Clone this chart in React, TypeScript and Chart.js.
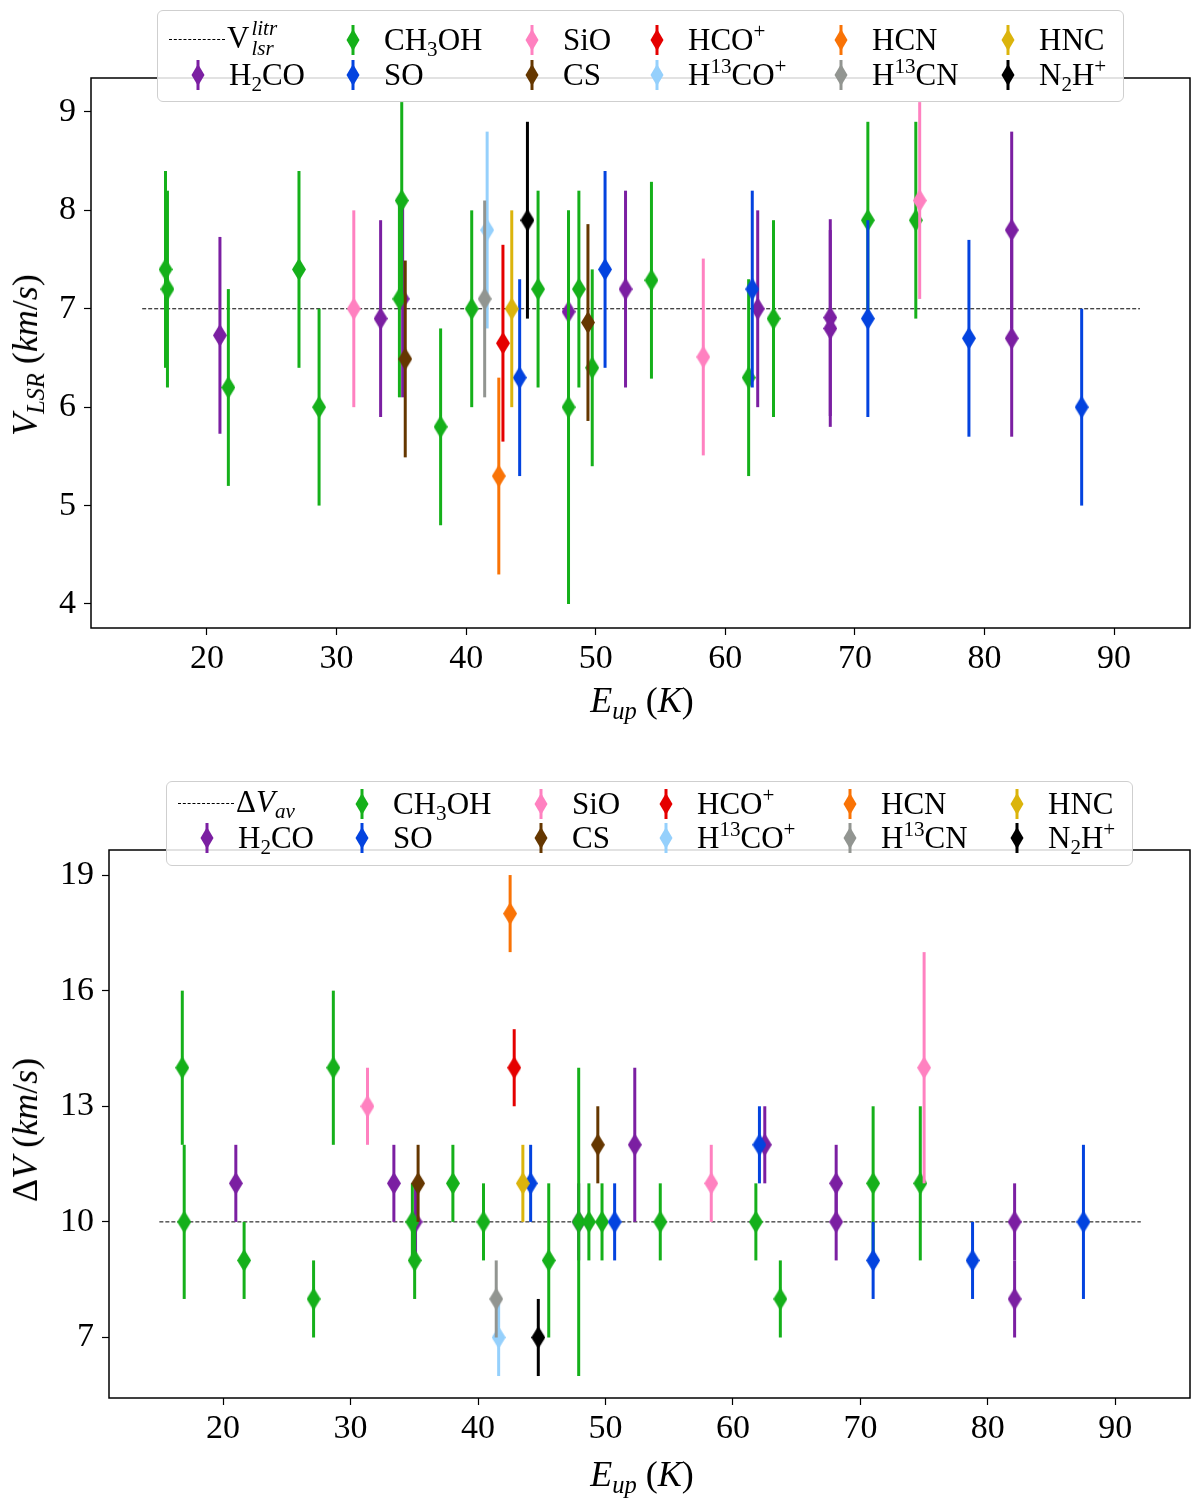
import React, { useEffect, useRef } from 'react';
import { Chart, registerables } from 'chart.js';

Chart.register(...registerables);

const FONT = "'Liberation Serif', 'DejaVu Serif', serif";

// x ticks and axis ranges
const X_TICKS = [20, 30, 40, 50, 60, 70, 80, 90];
const V_TICKS = [4, 5, 6, 7, 8, 9];
const DV_TICKS = [7, 10, 13, 16, 19];
const REF_X = [15, 92];
const V_LITR = 7;
const DV_AV = 10;

// species order: H2CO, CH3OH, SO, SiO, CS, HCO+, H13CO+, HCN, H13CN, HNC, N2H+
const COLORS = ['#7b1fa2', '#15b01a', '#0343df', '#ff81c0', '#653700', '#e50000', '#95d0fc', '#f97306', '#929591', '#dbb40c', '#000000'];

const E_UP = [
  [21.0, 33.4, 35.1, 47.9, 52.3, 62.5, 68.1, 68.1, 82.1, 82.1],
  [16.8, 16.95, 21.65, 27.1, 28.65, 34.85, 35.03, 38.03, 40.43, 45.55, 47.9, 48.7, 49.73, 54.3, 61.8, 63.72, 71.0, 74.7],
  [44.13, 50.72, 62.08, 71.0, 78.8, 87.5],
  [31.33, 58.3, 75.0],
  [35.3, 49.4],
  [42.84],
  [41.62],
  [42.52],
  [41.43],
  [43.52],
  [44.73],
];

const VLSR = [
  [6.73, 6.9, 7.1, 6.97, 7.2, 7.0, 6.91, 6.8, 7.8, 6.7],
  [7.4, 7.2, 6.2, 7.4, 6.0, 7.1, 8.1, 5.8, 7.0, 7.2, 6.0, 7.2, 6.4, 7.29, 6.3, 6.9, 7.9, 7.9],
  [6.3, 7.4, 7.2, 6.9, 6.7, 6.0],
  [7.0, 6.51, 8.1],
  [6.49, 6.86],
  [6.65],
  [7.8],
  [5.3],
  [7.1],
  [7.0],
  [7.9],
];

const VLSR_ERR = [
  [1, 1, 1, 1, 1, 1, 1, 1, 1, 1],
  [1, 1, 1, 1, 1, 1, 1, 1, 1, 1, 2, 1, 1, 1, 1, 1, 1, 1],
  [1, 1, 1, 1, 1, 1],
  [1, 1, 1],
  [1, 1],
  [1],
  [1],
  [1],
  [1],
  [1],
  [1],
];

const DV = [
  [11, 11, 10, 10, 12, 12, 11, 10, 10, 8],
  [14, 10, 9, 8, 14, 10, 9, 11, 10, 9, 10, 10, 10, 10, 10, 8, 11, 11],
  [11, 10, 12, 9, 9, 10],
  [13, 11, 14],
  [11, 12],
  [14],
  [7],
  [18],
  [8],
  [11],
  [7],
];

const DV_ERR = [
  [1, 1, 1, 1, 2, 1, 1, 1, 1, 1],
  [2, 2, 1, 1, 2, 1, 1, 1, 1, 2, 4, 1, 1, 1, 1, 1, 2, 2],
  [1, 1, 1, 1, 1, 2],
  [1, 1, 3],
  [1, 1],
  [1],
  [1],
  [1],
  [1],
  [1],
  [1],
];

const sub = (t: string, italic = false) => (
  <sub style={{ fontSize: '0.68em', lineHeight: 0, verticalAlign: '-0.3em', fontStyle: italic ? 'italic' : 'normal' }}>{t}</sub>
);
const sup = (t: string) => <sup style={{ fontSize: '0.68em', lineHeight: 0, verticalAlign: '0.55em' }}>{t}</sup>;

const LABELS = [
  <>H{sub('2')}CO</>,
  <>CH{sub('3')}OH</>,
  <>SO</>,
  <>SiO</>,
  <>CS</>,
  <>HCO{sup('+')}</>,
  <>H{sup('13')}CO{sup('+')}</>,
  <>HCN</>,
  <>H{sup('13')}CN</>,
  <>HNC</>,
  <>N{sub('2')}H{sup('+')}</>,
];

const LEGEND_COLS = [40, 195, 374, 499, 683, 850];

function diamond(color: string) {
  const c = document.createElement('canvas');
  c.width = 14;
  c.height = 23;
  const g = c.getContext('2d')!;
  g.fillStyle = color;
  g.beginPath();
  g.moveTo(7, 0);
  g.lineTo(14, 11.5);
  g.lineTo(7, 23);
  g.lineTo(0, 11.5);
  g.closePath();
  g.fill();
  return c;
}

const errorBars = {
  id: 'errorBars',
  beforeDatasetDraw(chart: any, args: any) {
    const ds = chart.data.datasets[args.index];
    if (!ds.errs) return;
    const { ctx, chartArea: a } = chart;
    const x = chart.scales.x;
    const y = chart.scales.y;
    ctx.save();
    ctx.beginPath();
    ctx.rect(a.left, a.top, a.right - a.left, a.bottom - a.top);
    ctx.clip();
    ctx.strokeStyle = ds.borderColor;
    ctx.lineWidth = 3;
    ds.data.forEach((p: any, j: number) => {
      const px = x.getPixelForValue(p.x);
      ctx.beginPath();
      ctx.moveTo(px, y.getPixelForValue(p.y - ds.errs[j]));
      ctx.lineTo(px, y.getPixelForValue(p.y + ds.errs[j]));
      ctx.stroke();
    });
    ctx.restore();
  },
};

const frame = {
  id: 'frame',
  afterDatasetsDraw(chart: any) {
    const { ctx, chartArea: a } = chart;
    ctx.save();
    ctx.strokeStyle = '#000';
    ctx.lineWidth = 1.5;
    ctx.strokeRect(a.left, a.top, a.right - a.left, a.bottom - a.top);
    ctx.restore();
  },
};

type PanelProps = {
  vals: number[][];
  errs: number[][];
  level: number;
  yMin: number;
  yMax: number;
  yTicks: number[];
  yWidth: number;
  xHeight: number;
  padTop: number;
  refLabel: React.ReactNode;
  yTitle: React.ReactNode;
  xTitleY: number;
  yTitleY: number;
  legendTop: number;
  legendLeft: number;
  legendH: number;
  rows: number[];
};

const Panel: React.FC<PanelProps> = (p) => {
  const chartRef = useRef<HTMLCanvasElement | null>(null);

  useEffect(() => {
    if (!chartRef.current) return;
    const ctx = chartRef.current.getContext('2d')!;
    const tickFont = { family: FONT, size: 34 };
    const chart = new Chart(ctx, {
      type: 'scatter',
      data: {
        datasets: [
          {
            type: 'line',
            data: [
              { x: REF_X[0], y: p.level },
              { x: REF_X[1], y: p.level },
            ],
            showLine: true,
            borderColor: '#000',
            borderWidth: 1,
            borderDash: [4, 2],
            pointRadius: 0,
            order: 100,
          },
          ...COLORS.map((c, i) => ({
            data: E_UP[i].map((x, j) => ({ x, y: p.vals[i][j] })),
            errs: p.errs[i],
            backgroundColor: c,
            borderColor: c,
            pointStyle: diamond(c),
            pointRadius: 8,
            order: 50 - i,
          })),
        ] as any,
      },
      options: {
        animation: false,
        responsive: false,
        devicePixelRatio: 1,
        layout: { padding: { top: p.padTop, right: 10, left: 0, bottom: 0 } },
        plugins: { legend: { display: false }, tooltip: { enabled: false } },
        scales: {
          x: {
            type: 'linear',
            min: 11.05,
            max: 95.86,
            afterBuildTicks: (s: any) => {
              s.ticks = X_TICKS.map((v) => ({ value: v }));
            },
            afterFit: (s: any) => {
              s.height = p.xHeight;
            },
            grid: { drawOnChartArea: false, drawTicks: true, tickLength: 7, tickColor: '#000', tickWidth: 1.2 },
            border: { display: false },
            ticks: { font: tickFont, color: '#000', padding: 4, maxRotation: 0, autoSkip: false },
          },
          y: {
            type: 'linear',
            min: p.yMin,
            max: p.yMax,
            afterBuildTicks: (s: any) => {
              s.ticks = p.yTicks.map((v) => ({ value: v }));
            },
            afterFit: (s: any) => {
              s.width = p.yWidth;
            },
            grid: { drawOnChartArea: false, drawTicks: true, tickLength: 7, tickColor: '#000', tickWidth: 1.2 },
            border: { display: false },
            ticks: { font: tickFont, color: '#000', padding: 8, autoSkip: false },
          },
        },
      } as any,
      plugins: [errorBars, frame],
    });
    return () => chart.destroy();
  }, []);

  const text = { position: 'absolute' as const, whiteSpace: 'nowrap' as const, fontFamily: FONT, color: '#000' };

  return (
    <div style={{ position: 'relative', width: 1200, height: 752 }}>
      <canvas ref={chartRef} width={1200} height={752} style={{ display: 'block' }} />
      <div style={{ ...text, fontSize: 36, left: 25, top: p.yTitleY, transform: 'translate(-50%, -50%) rotate(-90deg)' }}>
        {p.yTitle}
      </div>
      <div style={{ ...text, fontSize: 36, left: 642, top: p.xTitleY, transform: 'translate(-50%, -50%)' }}>
        <i>E</i>
        {sub('up', true)} (<i>K</i>)
      </div>
      <div
        style={{
          position: 'absolute',
          left: p.legendLeft,
          top: p.legendTop,
          width: 967,
          height: p.legendH,
          background: 'rgba(255,255,255,0.85)',
          border: '1.5px solid #cfcfcf',
          borderRadius: 6,
          boxSizing: 'border-box',
        }}
      >
        <div style={{ position: 'absolute', left: 11, top: p.rows[0] - 1, width: 56, borderTop: '1px dashed #000' }} />
        <div style={{ ...text, fontSize: 31, left: 69, top: p.rows[0] - 2, transform: 'translateY(-50%)' }}>{p.refLabel}</div>
        {COLORS.map((c, i) => {
          const slot = i + 1;
          const col = LEGEND_COLS[Math.floor(slot / 2)];
          const rowY = p.rows[slot % 2];
          return (
            <React.Fragment key={i}>
              <svg width={20} height={36} style={{ position: 'absolute', left: col - 10, top: rowY - 18 }}>
                <line x1={10} y1={3} x2={10} y2={33} stroke={c} strokeWidth={3} />
                <polygon points="10,7 16.5,18 10,29 3.5,18" fill={c} />
              </svg>
              <div style={{ ...text, fontSize: 31, left: col + 31, top: rowY, transform: 'translateY(-50%)' }}>{LABELS[i]}</div>
            </React.Fragment>
          );
        })}
      </div>
    </div>
  );
};

const App: React.FC = () => {
  useEffect(() => {
    document.body.style.margin = '0';
  }, []);

  return (
    <div style={{ width: 1200, height: 1504, background: '#fff' }}>
      <Panel
        vals={VLSR}
        errs={VLSR_ERR}
        level={V_LITR}
        yMin={3.756}
        yMax={9.345}
        yTicks={V_TICKS}
        yWidth={91}
        xHeight={124}
        padTop={78}
        xTitleY={700}
        yTitleY={355}
        legendTop={10}
        legendLeft={157}
        legendH={92}
        rows={[29, 64]}
        yTitle={
          <>
            <i>V</i>
            {sub('LSR', true)} (<i>km</i>/<i>s</i>)
          </>
        }
        refLabel={
          <span style={{ display: 'inline-flex', alignItems: 'center' }}>
            V
            <span style={{ display: 'inline-flex', flexDirection: 'column', fontSize: '0.68em', fontStyle: 'italic', lineHeight: 0.95, marginLeft: 2 }}>
              <span>litr</span>
              <span>lsr</span>
            </span>
          </span>
        }
      />
      <Panel
        vals={DV}
        errs={DV_ERR}
        level={DV_AV}
        yMin={5.43}
        yMax={19.65}
        yTicks={DV_TICKS}
        yWidth={109}
        xHeight={106}
        padTop={98}
        xTitleY={722}
        yTitleY={378}
        legendTop={29}
        legendLeft={166}
        legendH={85}
        rows={[22, 56]}
        yTitle={
          <>
            Δ<i>V</i> (<i>km</i>/<i>s</i>)
          </>
        }
        refLabel={
          <>
            Δ<i>V</i>
            {sub('av', true)}
          </>
        }
      />
    </div>
  );
};

export default App;
